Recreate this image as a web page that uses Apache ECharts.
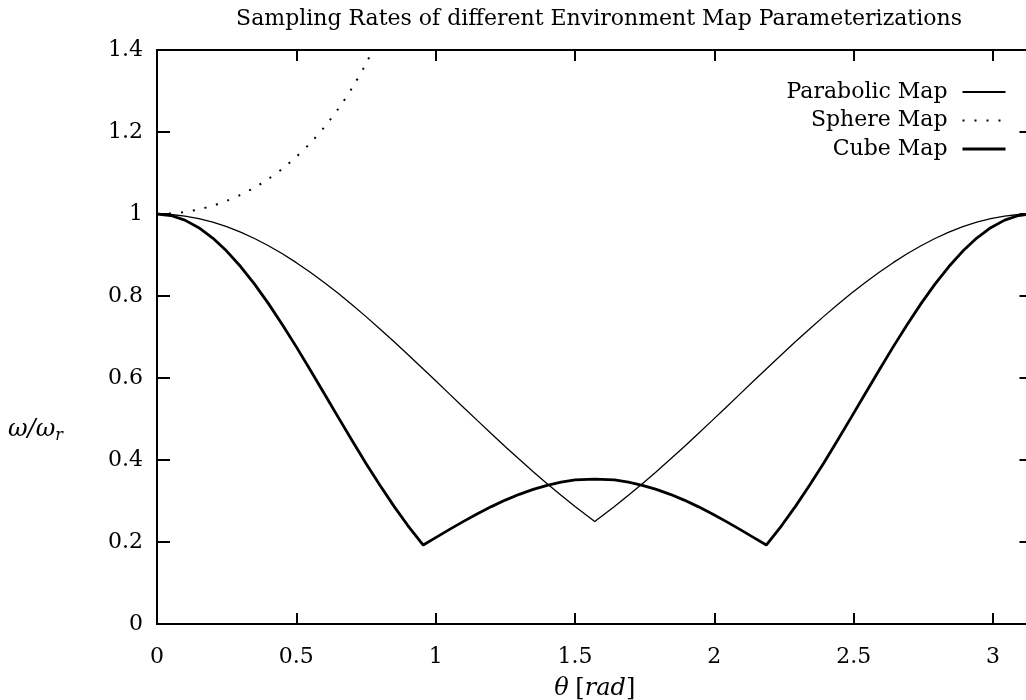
<!DOCTYPE html>
<html>
<head>
<meta charset="utf-8">
<script src="https://cdn.jsdelivr.net/npm/echarts@6/dist/echarts.min.js"></script>
<style>
html,body{margin:0;padding:0;background:#fff;}
#chart{width:1026px;height:700px;}
</style>
</head>
<body>
<div id="chart"></div>
<script>
// Angle samples (rad) shared by the parabolic and cube map curves
const theta = [
  0, 0.05, 0.10, 0.15, 0.20, 0.25, 0.30, 0.35, 0.40, 0.45, 0.50, 0.55, 0.60, 0.65, 0.70,
  0.75, 0.80, 0.85, 0.90, 0.9553, 1.00, 1.05, 1.10, 1.15, 1.20, 1.25, 1.30, 1.35, 1.40,
  1.45, 1.50, 1.5708,
  1.6416, 1.6916, 1.7416, 1.7916, 1.8416, 1.8916, 1.9416, 1.9916, 2.0416, 2.0916, 2.1416,
  2.1863, 2.2416, 2.2916, 2.3416, 2.3916, 2.4416, 2.4916, 2.5416, 2.5916, 2.6416, 2.6916,
  2.7416, 2.7916, 2.8416, 2.8916, 2.9416, 2.9916, 3.0416, 3.0916, 3.1416
];
const parabolic = [
  1, 0.9988, 0.9950, 0.9888, 0.9802, 0.9692, 0.9558, 0.9403, 0.9226, 0.9029, 0.8813, 0.8580,
  0.8330, 0.8065, 0.7787, 0.7497, 0.7197, 0.6889, 0.6574, 0.6220, 0.5931, 0.5607, 0.5282,
  0.4960, 0.4640, 0.4325, 0.4016, 0.3715, 0.3422, 0.3139, 0.2866, 0.25,
  0.2866, 0.3139, 0.3422, 0.3715, 0.4016, 0.4325, 0.4640, 0.4960, 0.5282, 0.5607, 0.5931,
  0.6220, 0.6574, 0.6889, 0.7197, 0.7497, 0.7787, 0.8065, 0.8330, 0.8580, 0.8813, 0.9029,
  0.9226, 0.9403, 0.9558, 0.9692, 0.9802, 0.9888, 0.9950, 0.9988, 1
];
const cube = [
  1, 0.9963, 0.9851, 0.9667, 0.9414, 0.9096, 0.8719, 0.8289, 0.7814, 0.7301, 0.6759, 0.6196,
  0.5622, 0.5045, 0.4474, 0.3917, 0.3382, 0.2875, 0.2402, 0.1925, 0.2107, 0.2308, 0.2503,
  0.2689, 0.2863, 0.3022, 0.3163, 0.3284, 0.3383, 0.3459, 0.3513, 0.3536,
  0.3513, 0.3459, 0.3383, 0.3284, 0.3163, 0.3022, 0.2863, 0.2689, 0.2503, 0.2308, 0.2107,
  0.1925, 0.2402, 0.2875, 0.3382, 0.3917, 0.4474, 0.5045, 0.5622, 0.6196, 0.6759, 0.7301,
  0.7814, 0.8289, 0.8719, 0.9096, 0.9414, 0.9667, 0.9851, 0.9963, 1
];
// Sphere map curve (leaves the plot at the top)
const sphereTheta = [0, 0.05, 0.10, 0.15, 0.20, 0.25, 0.30, 0.35, 0.40, 0.45, 0.50, 0.55, 0.60, 0.65, 0.70, 0.75, 0.80];
const sphere = [1, 1.0013, 1.0050, 1.0114, 1.0203, 1.0321, 1.0468, 1.0645, 1.0857, 1.1106, 1.1395, 1.1730, 1.2116, 1.2561, 1.3075, 1.3667, 1.4353];

const seriesNames = ['Parabolic Map', 'Sphere Map', 'Cube Map'];
const titleText = 'Sampling Rates of different Environment Map Parameterizations';
const xTickStep = 0.5;
const yTickStep = 0.2;
const xMax = 3.14159;
const yMax = 1.4;

const FONT = '"DejaVu Serif", "Liberation Serif", serif';
const FS = 22;
const chart = echarts.init(document.getElementById('chart'), null, {renderer: 'canvas'});

const axisLineStyle = {color: '#000', width: 2};
const xLabelFmt = v => {
  const k = Math.round(v / xTickStep);
  if (Math.abs(k * xTickStep - v) > 1e-6) return '';
  return String(+(k * xTickStep).toFixed(2));
};
const lineWidths = [1.3, 2, 2.8];
const lineTypes = ['solid', [2, 10], 'solid'];

const option = {
  backgroundColor: '#fff',
  animation: false,
  title: {
    text: titleText,
    left: 594,
    textAlign: 'center',
    top: 3,
    textStyle: {fontFamily: FONT, fontSize: FS, fontWeight: 'normal', color: '#000'}
  },
  legend: {
    orient: 'vertical',
    align: 'right',
    right: 14,
    top: 76,
    itemWidth: 43,
    itemHeight: 24,
    itemGap: 4.5 + 2,
    data: seriesNames.map((n, i) => ({
      name: n,
      lineStyle: {width: i === 2 ? 3 : (i === 0 ? 1.8 : 2), type: lineTypes[i], color: '#000'}
    })),
    itemStyle: {opacity: 0},
    textStyle: {fontFamily: FONT, fontSize: FS, color: '#000', padding: [0, 10, 0, 0]}
  },
  grid: {left: 157, top: 50, right: -6.5, bottom: 76, containLabel: false, outerBoundsMode: 'none'},
  graphic: [
    {
      type: 'text',
      left: 8,
      top: 418,
      style: {
        text: '{i|ω/ω}{s|r}',
        rich: {
          i: {fontFamily: FONT, fontStyle: 'italic', fontSize: 24, fill: '#000'},
          s: {fontFamily: FONT, fontStyle: 'italic', fontSize: 16, fill: '#000', padding: [12, 0, 0, 0]}
        }
      }
    }
  ],
  xAxis: [
    {
      type: 'value', position: 'bottom', min: 0, max: xMax, interval: xTickStep,
      axisLine: {show: true, onZero: false, lineStyle: axisLineStyle},
      axisTick: {show: true, inside: true, length: 11, lineStyle: {color: '#000', width: 2}},
      axisLabel: {show: true, formatter: xLabelFmt, showMaxLabel: false, margin: 22,
        fontFamily: FONT, fontSize: FS, color: '#000'},
      splitLine: {show: false},
      name: '{i|θ}  {n|[}{i|rad}{n|]}',
      nameLocation: 'middle',
      nameGap: 53,
      nameTextStyle: {
        rich: {
          i: {fontFamily: FONT, fontStyle: 'italic', fontSize: 24, color: '#000'},
          n: {fontFamily: FONT, fontSize: 24, color: '#000'}
        }
      }
    },
    {
      type: 'value', position: 'top', min: 0, max: xMax, interval: xTickStep,
      axisLine: {show: true, onZero: false, lineStyle: axisLineStyle},
      axisTick: {show: true, inside: true, length: 11, lineStyle: {color: '#000', width: 2}},
      axisLabel: {show: false},
      splitLine: {show: false}
    }
  ],
  yAxis: [
    {
      type: 'value', position: 'left', min: 0, max: yMax, interval: yTickStep,
      axisLine: {show: true, onZero: false, lineStyle: axisLineStyle},
      axisTick: {show: true, inside: true, length: 13, lineStyle: {color: '#000', width: 2}},
      axisLabel: {show: true, margin: 14, fontFamily: FONT, fontSize: FS, color: '#000'},
      splitLine: {show: false}
    },
    {
      type: 'value', position: 'right', min: 0, max: yMax, interval: yTickStep,
      axisLine: {show: true, onZero: false, lineStyle: axisLineStyle},
      axisTick: {show: true, inside: true, length: 13, lineStyle: {color: '#000', width: 2}},
      axisLabel: {show: false},
      splitLine: {show: false}
    }
  ],
  series: [
    {
      name: seriesNames[0], type: 'line', xAxisIndex: 0, yAxisIndex: 0, color: '#000',
      data: theta.map((t, i) => [t, parabolic[i]]),
      showSymbol: false, symbol: 'none', clip: true,
      lineStyle: {color: '#000', width: lineWidths[0], type: lineTypes[0]}
    },
    {
      name: seriesNames[1], type: 'line', xAxisIndex: 0, yAxisIndex: 0, color: '#000',
      data: sphereTheta.map((t, i) => [t, sphere[i]]),
      showSymbol: false, symbol: 'none', clip: true, smooth: 0.3,
      lineStyle: {color: '#000', width: lineWidths[1], type: lineTypes[1]}
    },
    {
      name: seriesNames[2], type: 'line', xAxisIndex: 0, yAxisIndex: 0, color: '#000',
      data: theta.map((t, i) => [t, cube[i]]),
      showSymbol: false, symbol: 'none', clip: true,
      lineStyle: {color: '#000', width: lineWidths[2], type: lineTypes[2]}
    }
  ]
};
chart.setOption(option);
</script>
</body>
</html>
